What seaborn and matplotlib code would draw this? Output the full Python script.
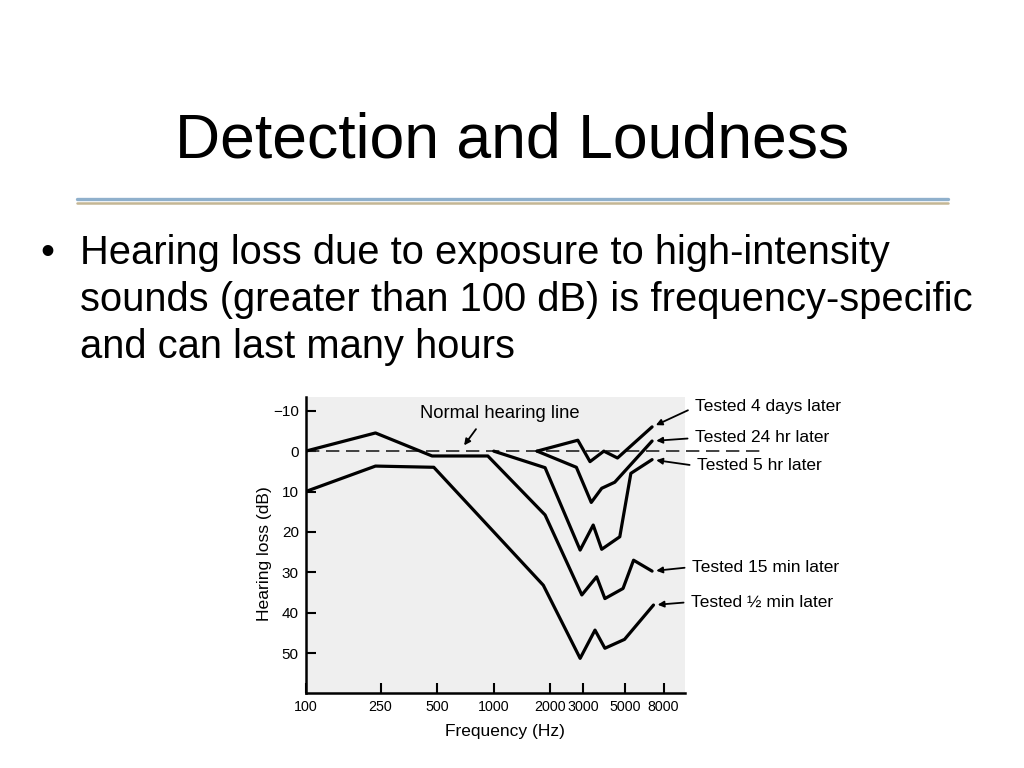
import numpy as np
import pandas as pd
import matplotlib
matplotlib.use("Agg")
import matplotlib.pyplot as plt
from matplotlib.lines import Line2D
from matplotlib.ticker import NullLocator
import seaborn as sns

# audiogram curves (frequency in Hz, hearing loss in dB)
freq_4days = [1700, 2800, 3250, 3850, 4550, 6950]
loss_4days = [0, -2.7, 2.6, 0, 1.7, -6.0]
freq_24hr = [1700, 2750, 3300, 3750, 4400, 6950]
loss_24hr = [0, 4.0, 12.7, 9.2, 7.7, -2.5]
freq_5hr = [1000, 1875, 2880, 3380, 3750, 4680, 5360, 6950]
loss_5hr = [0, 4.1, 24.5, 18.3, 24.3, 21.2, 5.5, 2.1]
freq_15min = [100, 235, 470, 930, 1875, 2940, 3525, 3900, 4870, 5540, 6950]
loss_15min = [0, -4.5, 1.2, 1.2, 15.8, 35.6, 31.1, 36.5, 34.0, 27.0, 29.7]
freq_halfmin = [100, 235, 480, 1835, 2880, 3455, 3900, 4960, 7070]
loss_halfmin = [10, 3.7, 4.0, 33.2, 51.3, 44.3, 48.8, 46.6, 38.1]

labels = ["Tested 4 days later", "Tested 24 hr later", "Tested 5 hr later",
          "Tested 15 min later", "Tested \u00bd min later"]

freq_ticks = [100, 250, 500, 1000, 2000, 3000, 5000, 8000]
db_ticks = [-10, 0, 10, 20, 30, 40, 50]

title = "Detection and Loudness"
bullet_lines = ["Hearing loss due to exposure to high-intensity",
                "sounds (greater than 100 dB) is frequency-specific",
                "and can last many hours"]

# build long table for seaborn
series = [(labels[0], freq_4days, loss_4days),
          (labels[1], freq_24hr, loss_24hr),
          (labels[2], freq_5hr, loss_5hr),
          (labels[3], freq_15min, loss_15min),
          (labels[4], freq_halfmin, loss_halfmin)]
df = pd.concat([pd.DataFrame({"freq": f, "loss": l, "test": lab})
                for lab, f, l in series], ignore_index=True)

sns.set_style("ticks")
plt.rcParams['font.family'] = ['Liberation Sans', 'DejaVu Sans']
plt.rcParams['text.color'] = 'black'
plt.rcParams['axes.labelcolor'] = 'black'
plt.rcParams['xtick.color'] = 'black'
plt.rcParams['ytick.color'] = 'black'

fig = plt.figure(figsize=(10.24, 7.68), dpi=100)

# slide title, divider, bullet text
fig.text(0.5, 1 - 157.5 / 768, title, ha='center', va='baseline', fontsize=45)
fig.add_artist(Line2D([77 / 1024, 948 / 1024], [1 - 198.5 / 768] * 2,
                      transform=fig.transFigure, color='#8fb0cc', lw=2.4))
fig.add_artist(Line2D([77 / 1024, 948 / 1024], [1 - 202.5 / 768] * 2,
                      transform=fig.transFigure, color='#c4b694', lw=1.8))
fig.text(47 / 1024, 1 - 264 / 768, "\u2022", ha='center', va='baseline', fontsize=28.7)
for i, line in enumerate(bullet_lines):
    fig.text(80 / 1024, 1 - (264 + 47 * i) / 768, line, ha='left',
             va='baseline', fontsize=28.7)

# audiogram
ax = fig.add_axes([305.7 / 1024, 75.3 / 768, 379.3 / 1024, 295.7 / 768])
ax.set_facecolor('#efefef')
sns.lineplot(data=df, x="freq", y="loss", hue="test", palette=["black"] * 5,
             estimator=None, sort=False, legend=False, lw=2.3, ax=ax)
ax.axhline(0, xmin=0, xmax=1.2, color='#222222', lw=1.2, ls=(0, (8, 4)),
           clip_on=False, zorder=1)

ax.set_xscale('log')
ax.set_xlim(100, 10400)
ax.set_ylim(59.8, -13.4)
ax.set_xticks(freq_ticks)
ax.set_xticklabels([str(f) for f in freq_ticks])
ax.xaxis.set_minor_locator(NullLocator())
ax.set_yticks(db_ticks)
ax.tick_params(direction='in', length=7, width=1.5, labelsize=11, pad=5,
               bottom=True, left=True)
ax.tick_params(axis='x', labelsize=10.3)
for s in ['top', 'right']:
    ax.spines[s].set_visible(False)
for s in ['left', 'bottom']:
    ax.spines[s].set_linewidth(1.8)
    ax.spines[s].set_color('black')

ax.set_xlabel("Frequency (Hz)", fontsize=12.5)
ax.set_ylabel("Hearing loss (dB)", fontsize=12.6)
ax.xaxis.set_label_coords(0.525, -0.105)
ax.yaxis.set_label_coords(-0.09, 0.47)

arrow = dict(arrowstyle='-|>', color='black', lw=1.3, mutation_scale=9,
             shrinkA=3, shrinkB=3)

# curve labels on the right
label_pos = [(695, 361), (695, 330), (697, 302), (692, 201), (691, 166)]
for (lab, f, l), (px, py) in zip(series, label_pos):
    ax.annotate(lab, xy=(f[-1], l[-1]), xycoords='data',
                xytext=(px, py), textcoords='figure pixels',
                ha='left', va='center', fontsize=12.5,
                arrowprops=dict(arrow, relpos=(0, 0.5)), annotation_clip=False)

ax.annotate("Normal hearing line", xy=(675, -0.6), xycoords='data',
            xytext=(500, 354), textcoords='figure pixels',
            ha='center', va='center', fontsize=13.2,
            arrowprops=dict(arrow, relpos=(0.38, 0.0)), annotation_clip=False)

fig.savefig("out.png", dpi=100)
